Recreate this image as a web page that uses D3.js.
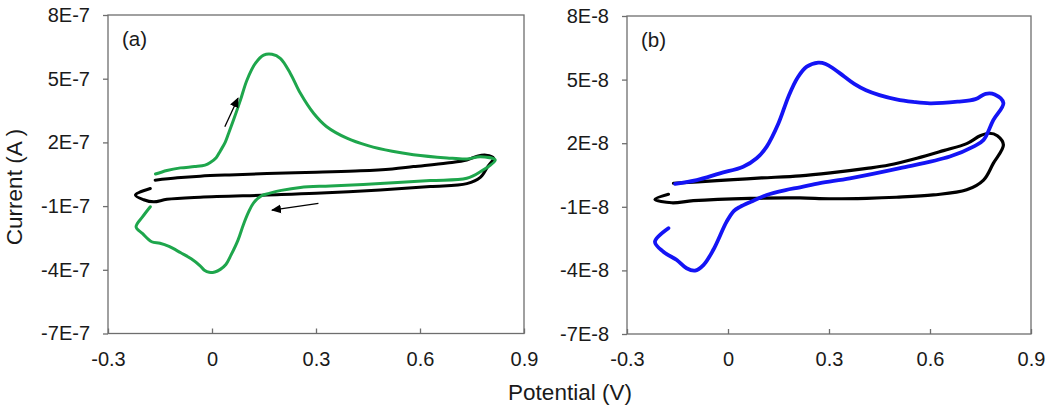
<!DOCTYPE html>
<html><head><meta charset="utf-8">
<script src="https://cdn.jsdelivr.net/npm/d3@7"></script>
<style>
body{margin:0;background:#fff}
svg{display:block}
text{font-family:"Liberation Sans",Arial,sans-serif;fill:#1a1a1a}
</style>
</head><body>
<svg id="c" width="1050" height="411"></svg>
<script>
// ---- data ----
const xTicks = [-0.3, 0, 0.3, 0.6, 0.9];
const xTickLabels = ["-0.3", "0", "0.3", "0.6", "0.9"];
const yTicks = [8, 5, 2, -1, -4, -7];
const yTickLabelsA = ["8E-7", "5E-7", "2E-7", "-1E-7", "-4E-7", "-7E-7"];
const yTickLabelsB = ["8E-8", "5E-8", "2E-8", "-1E-8", "-4E-8", "-7E-8"];

// Panel (a): current in units of 1E-7 A
const aGreenV = [-0.163,-0.13,-0.091,-0.05,-0.02,-0.005,0.012,0.024,0.038,0.048,0.062,0.082,0.101,0.125,0.149,0.173,0.197,0.226,0.255,0.293,0.33,0.389,0.45,0.52,0.581,0.678,0.735,0.774,0.817,0.774,0.735,0.63,0.485,0.341,0.255,0.2,0.165,0.144,0.12,0.105,0.09,0.075,0.055,0.04,0.024,0.008,-0.008,-0.022,-0.035,-0.06,-0.09,-0.124,-0.15,-0.174,-0.2,-0.219,-0.2,-0.178];
const aGreenI = [0.51,0.68,0.8,0.86,0.93,1.05,1.28,1.6,2.0,2.43,3.05,3.99,4.94,5.72,6.11,6.15,5.96,5.25,4.31,3.37,2.75,2.2,1.85,1.58,1.42,1.27,1.22,1.32,1.17,0.62,0.31,0.2,0.06,-0.05,-0.12,-0.26,-0.4,-0.5,-0.85,-1.3,-1.9,-2.6,-3.3,-3.75,-3.98,-4.1,-4.12,-4.02,-3.8,-3.48,-3.2,-2.9,-2.75,-2.68,-2.3,-1.98,-1.5,-1.03];
const aBlackV = [-0.164,-0.1,-0.034,0.05,0.159,0.3,0.428,0.52,0.581,0.678,0.735,0.765,0.79,0.812,0.795,0.774,0.735,0.63,0.485,0.3,0.159,-0.034,-0.13,-0.168,-0.197,-0.221,-0.178];
const aBlackI = [0.22,0.33,0.41,0.47,0.53,0.6,0.66,0.75,0.86,1.03,1.17,1.35,1.4,1.27,0.85,0.35,0.06,-0.08,-0.24,-0.4,-0.48,-0.58,-0.68,-0.8,-0.7,-0.48,-0.17];
// direction arrows in panel (a): [V0, I0, V1, I1]
const aArrow1 = [0.037, 2.74, 0.075, 4.08];
const aArrow2 = [0.307, -0.87, 0.173, -1.19];

// Panel (b): current in units of 1E-8 A
const bBlueV = [-0.157,-0.093,-0.024,0.045,0.085,0.115,0.15,0.18,0.207,0.234,0.268,0.29,0.315,0.345,0.375,0.41,0.45,0.5,0.55,0.6,0.682,0.735,0.765,0.792,0.818,0.788,0.759,0.729,0.659,0.511,0.362,0.273,0.214,0.171,0.115,0.068,0.036,0.017,-0.004,-0.044,-0.073,-0.098,-0.123,-0.152,-0.192,-0.217,-0.177];
const bBlueI = [0.08,0.26,0.58,0.89,1.29,1.84,2.94,4.22,5.1,5.61,5.8,5.74,5.5,5.15,4.8,4.5,4.27,4.07,3.95,3.88,3.96,4.08,4.33,4.3,3.9,3.09,2.15,1.84,1.37,0.82,0.34,0.12,-0.08,-0.21,-0.44,-0.76,-1.0,-1.2,-1.7,-3.04,-3.75,-4.01,-3.9,-3.51,-3.12,-2.65,-2.01];
const bBlackV = [-0.162,-0.09,0.016,0.1,0.214,0.304,0.412,0.478,0.561,0.64,0.709,0.749,0.776,0.8,0.818,0.788,0.759,0.709,0.61,0.5,0.412,0.3,0.214,0.065,-0.103,-0.167,-0.217,-0.177];
const bBlackI = [0.11,0.18,0.28,0.36,0.46,0.6,0.81,0.97,1.29,1.65,1.98,2.35,2.47,2.35,1.92,1.05,0.26,-0.2,-0.44,-0.55,-0.6,-0.62,-0.58,-0.6,-0.71,-0.81,-0.65,-0.41];

// ---- drawing ----
const svg = d3.select("#c");
const defs = svg.append("defs");
defs.append("marker").attr("id","ah").attr("viewBox","0 0 10 10")
  .attr("refX",9).attr("refY",5).attr("markerWidth",10).attr("markerHeight",10)
  .attr("markerUnits","userSpaceOnUse").attr("orient","auto")
  .append("path").attr("d","M0,0.5 L10,5 L0,9.5 Z").attr("fill","#000");

function panel(box, yLabels, tag, series, arrows) {
  const x = d3.scaleLinear().domain([-0.3, 0.9]).range([box.l, box.r]);
  const y = d3.scaleLinear().domain([-7, 8]).range([box.b, box.t]);
  const g = svg.append("g");

  g.append("rect").attr("x", box.l).attr("y", box.t)
    .attr("width", box.r - box.l).attr("height", box.b - box.t)
    .attr("fill", "none").attr("stroke", "#6e6e6e").attr("stroke-width", 1.3);

  const ya = g.append("g").attr("transform", `translate(${box.l},0)`)
    .call(d3.axisLeft(y).tickValues(yTicks).tickSize(5).tickPadding(13)
      .tickFormat((d, i) => yLabels[i]));
  ya.select(".domain").remove();
  ya.selectAll("line").attr("stroke", "#6e6e6e").attr("stroke-width", 1.3);
  ya.selectAll("text").attr("font-size", 20).attr("fill", "#1a1a1a")
    .style("font-family", '"Liberation Sans", Arial, sans-serif');

  const xa = g.append("g").attr("transform", `translate(0,${box.b})`)
    .call(d3.axisBottom(x).tickValues(xTicks).tickSize(-5).tickPadding(18)
      .tickFormat((d, i) => xTickLabels[i]));
  xa.select(".domain").remove();
  xa.selectAll("line").attr("stroke", "#6e6e6e").attr("stroke-width", 1.3);
  xa.selectAll("text").attr("font-size", 20).attr("fill", "#1a1a1a")
    .style("font-family", '"Liberation Sans", Arial, sans-serif');

  g.append("text").attr("x", box.l + 14).attr("y", box.t + 31)
    .attr("font-size", 20.5).text(tag);

  const line = d3.line().x(d => x(d[0])).y(d => y(d[1]))
    .curve(d3.curveCatmullRom.alpha(0.5));
  series.forEach(s => {
    const pts = s.v.map((v, i) => [v, s.i[i]]);
    g.append("path").attr("d", line(pts)).attr("fill", "none")
      .attr("stroke", s.color).attr("stroke-width", s.w)
      .attr("stroke-linejoin", "round").attr("stroke-linecap", "round");
  });
  arrows.forEach(a => {
    g.append("line").attr("x1", x(a[0])).attr("y1", y(a[1]))
      .attr("x2", x(a[2])).attr("y2", y(a[3]))
      .attr("stroke", "#000").attr("stroke-width", 1.3)
      .attr("marker-end", "url(#ah)");
  });
}

panel({l: 108, r: 524, t: 15, b: 333.5}, yTickLabelsA, "(a)", [
  {v: aBlackV, i: aBlackI, color: "#000000", w: 3},
  {v: aGreenV, i: aGreenI, color: "#1ea64c", w: 3}
], [aArrow1, aArrow2]);

panel({l: 627, r: 1031, t: 16, b: 334}, yTickLabelsB, "(b)", [
  {v: bBlackV, i: bBlackI, color: "#000000", w: 3.2},
  {v: bBlueV, i: bBlueI, color: "#1414f5", w: 3.8}
], []);

svg.append("text").attr("transform", "translate(22,187) rotate(-90)")
  .attr("text-anchor", "middle").attr("font-size", 22.5).text("Current (A )");
svg.append("text").attr("x", 570).attr("y", 400)
  .attr("text-anchor", "middle").attr("font-size", 22.5).text("Potential (V)");
</script>
</body></html>
